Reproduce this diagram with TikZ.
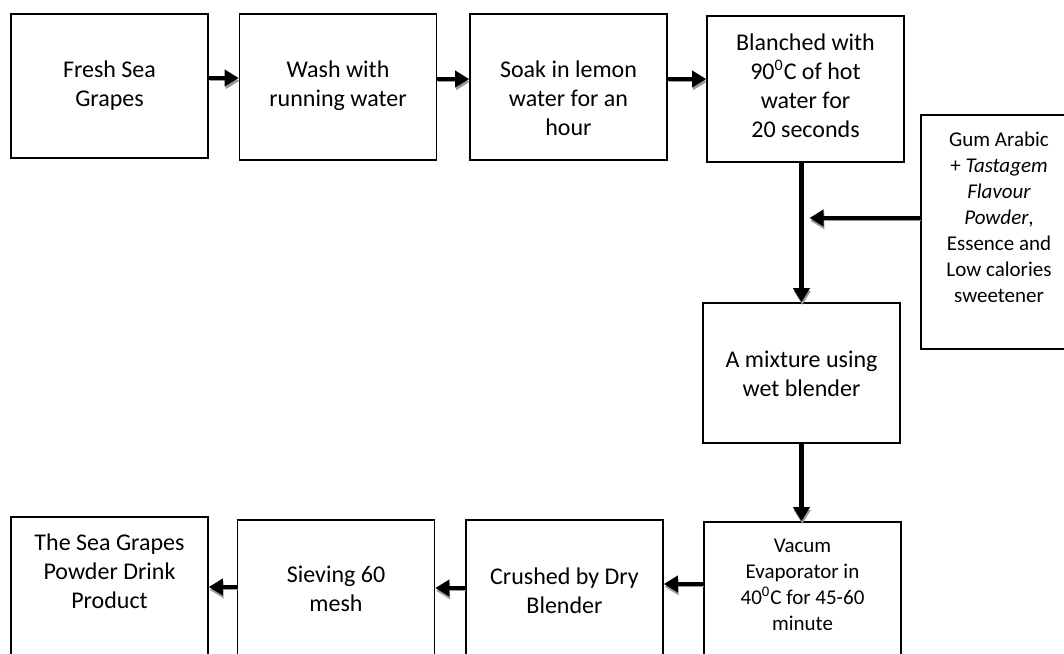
\documentclass[tikz,border=0pt]{standalone}
\usepackage{fontspec}
\setmainfont{Carlito}
\usetikzlibrary{arrows.meta,positioning}

\tikzset{
  stepbox/.style={draw,line width=0.8pt,inner sep=0pt,minimum width=98.5pt,minimum height=73pt},
  steptext/.style={inner sep=0pt,align=center,font=\fontsize{12}{14.5}\selectfont},
  smalltext/.style={inner sep=0pt,align=center,font=\fontsize{10.5}{13}\selectfont},
  flow/.style={line width=2pt,-{Triangle[length=7pt,width=8pt]},
    preaction={draw=black!40,transform canvas={shift={(0.4pt,-1.4pt)}}}}
}

\begin{document}
\begin{tikzpicture}[x=0.5pt,y=-0.5pt]
\useasboundingbox (0,0) rectangle (1064,653);
\clip (0,0) rectangle (1064,653);

\node[stepbox,minimum height=72pt] (fresh) at (109.5,86) {};
\node[stepbox] (wash) at (338,87) {};
\node[stepbox] (soak) at (568.5,87) {};
\node[stepbox] (blanch) at (805.5,89) {};
\node[stepbox,minimum width=78pt,minimum height=117pt] (gum) at (999,232) {};
\node[stepbox,minimum height=70pt] (mixture) at (801.5,373) {};
\node[stepbox] (vacum) at (802.5,595) {};
\node[stepbox] (crushed) at (564.5,593) {};
\node[stepbox] (sieving) at (336,593) {};
\node[stepbox] (product) at (109.5,590) {};

\node[steptext,below=23.5pt of fresh.north] (freshtext) {Fresh Sea\\Grapes};
\node[steptext,below=23.5pt of wash.north] (washtext) {Wash with\\running water};
\node[steptext,below=23.5pt of soak.north] (soaktext) {Soak in lemon\\water for an\\hour};
\node[steptext,below=9pt of blanch.north] (blanchtext) {Blanched with\\90\textsuperscript{0}C of hot\\water for\\20 seconds};
\node[smalltext,below=8.5pt of gum.north] (gumtext) {Gum Arabic\\+ \textit{Tastagem}\\\textit{Flavour}\\\textit{Powder},\\Essence and\\Low calories\\sweetener};
\node[steptext,below=24pt of mixture.north] (mixturetext) {A mixture using\\wet blender};
\node[smalltext,below=8.75pt of vacum.north] (vacumtext) {Vacum\\Evaporator in\\40\textsuperscript{0}C for 45-60\\minute};
\node[steptext,below=24pt of crushed.north] (crushedtext) {Crushed by Dry\\Blender};
\node[steptext,below=23pt of sieving.north] (sievingtext) {Sieving 60\\mesh};
\node[steptext,below=8.5pt of product.north] (producttext) {The Sea Grapes\\Powder Drink\\Product};

\draw[flow] ([yshift=4pt]fresh.east) -- ([yshift=4pt]fresh.east -| wash.west);
\draw[flow] ([yshift=4pt]wash.east) -- ([yshift=4pt]wash.east -| soak.west);
\draw[flow] ([yshift=4pt]soak.east) -- ([yshift=4pt]soak.east -| blanch.west);

\draw[flow,line width=2.5pt] (blanch.south -| mixture.north) -- (mixture.north);
\draw[flow] ([yshift=7pt]gum.west) -- ([xshift=4pt,yshift=7pt]gum.west -| mixture.north);
\draw[flow,line width=2.5pt] (mixture.south) -- (mixture.south |- vacum.north);

\draw[flow] ([yshift=4.5pt]crushed.east -| vacum.west) -- ([yshift=4.5pt]crushed.east);
\draw[flow] ([yshift=2.5pt]sieving.east -| crushed.west) -- ([yshift=2.5pt]sieving.east);
\draw[flow] ([yshift=1.5pt]product.east -| sieving.west) -- ([yshift=1.5pt]product.east);

\end{tikzpicture}
\end{document}
